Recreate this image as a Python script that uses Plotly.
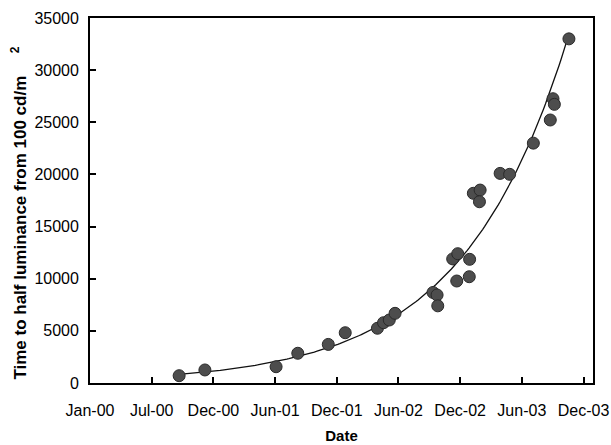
import numpy as np
import pandas as pd
import plotly.graph_objects as go

# Measurement dates and lifetimes (hours)
dates = ["2000-09-20", "2000-12-05", "2001-07-03", "2001-09-05", "2001-12-04",
         "2002-01-23", "2002-04-28", "2002-05-16", "2002-06-02", "2002-06-19",
         "2002-10-09", "2002-10-21", "2002-10-23", "2002-12-06", "2002-12-21",
         "2002-12-18", "2003-01-25", "2003-01-24", "2003-02-05", "2003-02-25",
         "2003-02-23", "2003-04-25", "2003-05-23", "2003-08-01", "2003-09-20",
         "2003-09-28", "2003-10-02", "2003-11-14"]
lifetime = [700, 1250, 1560, 2850, 3700,
            4820, 5250, 5780, 6040, 6680,
            8680, 8440, 7400, 11900, 12400,
            9780, 11860, 10190, 18190, 18500,
            17380, 20100, 20010, 23000, 25220,
            27260, 26720, 33000]

tick_labels = ["Jan-00", "Jul-00", "Dec-00", "Jun-01", "Dec-01",
               "Jun-02", "Dec-02", "Jun-03", "Dec-03"]
y_ticks = [0, 5000, 10000, 15000, 20000, 25000, 30000, 35000]

axis_start = pd.Timestamp("2000-01-01")
tick_step_days = 182
tick_vals = [axis_start + pd.Timedelta(days=tick_step_days * i) for i in range(len(tick_labels))]
axis_end = axis_start + pd.Timedelta(days=1484)

# Exponential trendline fitted to the data (as in a spreadsheet trendline)
d = pd.to_datetime(dates)
t = np.array([(x - axis_start).days for x in d], dtype=float)
b, ln_a = np.polyfit(t, np.log(lifetime), 1)
t_fit = np.linspace(t.min(), t.max(), 200)
y_fit = np.exp(ln_a + b * t_fit)
d_fit = [axis_start + pd.Timedelta(days=float(v)) for v in t_fit]

fig = go.Figure()
fig.add_trace(go.Scatter(x=d_fit, y=y_fit, mode="lines",
                         line=dict(color="#111111", width=1.3), showlegend=False))
fig.add_trace(go.Scatter(x=d, y=lifetime, mode="markers",
                         marker=dict(size=12, color="#4d4d4d",
                                     line=dict(color="#2a2a2a", width=1)),
                         showlegend=False))

font_family = "Liberation Sans, Arial, sans-serif"
fig.update_layout(
    width=611, height=445,
    margin=dict(l=90, r=18, t=18, b=62),
    paper_bgcolor="white", plot_bgcolor="white",
    font=dict(family=font_family, size=16, color="#000000"),
    xaxis=dict(
        type="date", range=[axis_start, axis_end],
        tickvals=tick_vals, ticktext=tick_labels,
        ticks="inside", ticklen=6, tickwidth=1.5, tickcolor="black",
        showline=True, linecolor="black", linewidth=1.8, mirror=True,
        showgrid=False, zeroline=False, automargin=False,
        ticklabelstandoff=12,
        title=dict(text="<b>Date</b>", font=dict(size=15), standoff=12),
    ),
    yaxis=dict(
        range=[0, 35000], tickvals=y_ticks,
        ticktext=[str(v) for v in y_ticks],
        ticks="inside", ticklen=6, tickwidth=1.5, tickcolor="black",
        showline=True, linecolor="black", linewidth=1.8, mirror=True,
        showgrid=False, zeroline=False, automargin=False,
        ticklabelstandoff=6,
    ),
    annotations=[
        dict(text="<b>Time to half luminance from 100 cd/m</b>",
             xref="paper", yref="paper", x=-0.139, y=0.426,
             xanchor="center", yanchor="middle", textangle=-90,
             showarrow=False, font=dict(size=17)),
        dict(text="<b>2</b>",
             xref="paper", yref="paper", x=-0.149, y=0.912,
             xanchor="center", yanchor="middle", textangle=-90,
             showarrow=False, font=dict(size=12)),
    ],
)

# remove the browser's default page margin so the figure fills the window exactly
fig.write_html("out.html", post_script="document.body.style.margin='0';",
               config={"displayModeBar": False})
